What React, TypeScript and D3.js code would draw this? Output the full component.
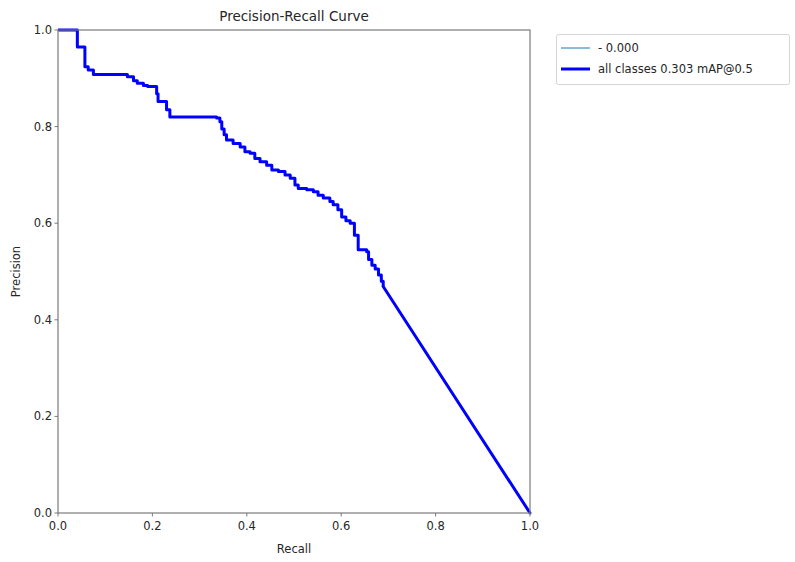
import React from "react";
import * as d3 from "d3";

const recall = [
  0, 0.041, 0.057, 0.064, 0.075, 0.147, 0.16, 0.168, 0.181, 0.19, 0.209,
  0.212, 0.23, 0.237, 0.336, 0.343, 0.347, 0.352, 0.357, 0.371, 0.386, 0.396,
  0.407, 0.417, 0.428, 0.442, 0.453, 0.467, 0.481, 0.492, 0.502, 0.509, 0.527,
  0.541, 0.551, 0.562, 0.576, 0.583, 0.593, 0.601, 0.61, 0.619, 0.628, 0.636,
  0.654, 0.658, 0.665, 0.672, 0.679, 0.685, 0.689, 1.0,
];
const precision = [
  1.0, 0.965, 0.924, 0.917, 0.908, 0.903, 0.895, 0.89, 0.885, 0.883, 0.868,
  0.852, 0.835, 0.82, 0.818, 0.81, 0.795, 0.783, 0.772, 0.765, 0.758, 0.748,
  0.745, 0.734, 0.727, 0.72, 0.71, 0.707, 0.7, 0.693, 0.679, 0.672, 0.669,
  0.665, 0.658, 0.652, 0.645, 0.638, 0.628, 0.613, 0.605, 0.6, 0.575, 0.545,
  0.541, 0.525, 0.513, 0.505, 0.493, 0.48, 0.469, 0.0,
];
const ticks = [0, 0.2, 0.4, 0.6, 0.8, 1.0];
const tickLabels = ["0.0", "0.2", "0.4", "0.6", "0.8", "1.0"];
const legendLabels = ["- 0.000", "all classes 0.303 mAP@0.5"];
const titleText = "Precision-Recall Curve";
const xLabel = "Recall";
const yLabel = "Precision";

export default function App() {
  const W = 795, H = 562;
  const L = 58, R = 530, T = 30, B = 513;
  const x = d3.scaleLinear().domain([0, 1]).range([L, R]);
  const y = d3.scaleLinear().domain([0, 1]).range([B, T]);
  const pts: [number, number][] = recall.map((r, i) => [r, precision[i]]);
  const n = pts.length;
  const stepLine = d3.line<[number, number]>().x((d) => x(d[0])).y((d) => y(d[1])).curve(d3.curveStepAfter);
  const straight = d3.line<[number, number]>().x((d) => x(d[0])).y((d) => y(d[1]));
  const font = "DejaVu Sans, sans-serif";
  const txt = "#262626";
  const axisCol = "#7a7a7a";
  return (
    <svg width={W} height={H} style={{ position: "absolute", left: 0, top: 0, background: "#fff" }} fontFamily={font}>
      <rect x={0} y={0} width={W} height={H} fill="#fff" />
      <text x={(L + R) / 2} y={21} textAnchor="middle" fontSize={13.5} fill={txt}>{titleText}</text>
      <path d={stepLine(pts.slice(0, n - 1)) || ""} fill="none" stroke="#0000ff" strokeWidth={3} strokeLinejoin="round" />
      <path d={straight(pts.slice(n - 2)) || ""} fill="none" stroke="#0000ff" strokeWidth={3} strokeLinejoin="round" strokeLinecap="round" />
      <rect x={L} y={T} width={R - L} height={B - T} fill="none" stroke={axisCol} strokeWidth={1.2} />
      {ticks.map((t, i) => (
        <g key={"x" + i}>
          <line x1={x(t)} x2={x(t)} y1={B} y2={B + 3.5} stroke={axisCol} strokeWidth={1} />
          <text x={x(t)} y={B + 17} textAnchor="middle" fontSize={11.5} fill={txt}>{tickLabels[i]}</text>
        </g>
      ))}
      {ticks.map((t, i) => (
        <g key={"y" + i}>
          <line x1={L - 3.5} x2={L} y1={y(t)} y2={y(t)} stroke={axisCol} strokeWidth={1} />
          <text x={L - 6} y={y(t) + 4} textAnchor="end" fontSize={11.5} fill={txt}>{tickLabels[i]}</text>
        </g>
      ))}
      <text x={(L + R) / 2} y={553} textAnchor="middle" fontSize={11.5} fill={txt}>{xLabel}</text>
      <text transform={`translate(20,${(T + B) / 2}) rotate(-90)`} textAnchor="middle" fontSize={11.5} fill={txt}>{yLabel}</text>
      <rect x={556.5} y={34.5} width={233} height={50} rx={2} fill="#fff" stroke="#d5d5d5" strokeWidth={1} />
      <line x1={561} x2={590} y1={48} y2={48} stroke="#1f77b4" strokeWidth={1} />
      <text x={598} y={52} fontSize={11.5} fill={txt}>{legendLabels[0]}</text>
      <line x1={561} x2={590} y1={69} y2={69} stroke="#0000ff" strokeWidth={3} />
      <text x={598} y={73} fontSize={11.5} fill={txt}>{legendLabels[1]}</text>
    </svg>
  );
}
